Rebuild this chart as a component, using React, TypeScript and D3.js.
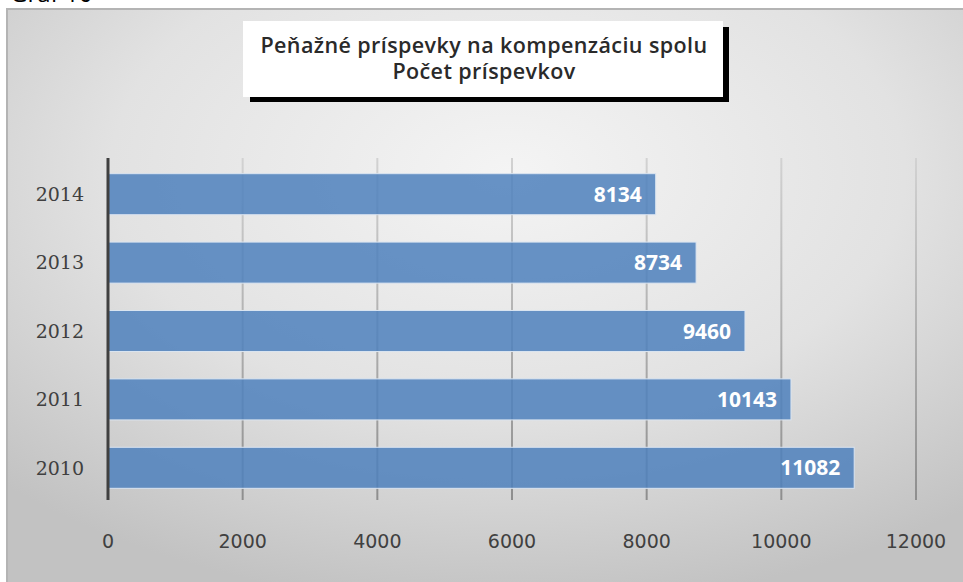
import React from "react";
import * as d3 from "d3";

const categories = ["2014", "2013", "2012", "2011", "2010"];
const values = [8134, 8734, 9460, 10143, 11082];
const xTicks = [0, 2000, 4000, 6000, 8000, 10000, 12000];
const titleLines = ["Peňažné príspevky na kompenzáciu spolu", "Počet príspevkov"];
const caption = "Graf 10";

export default function App() {
  const W = 963;
  const H = 582;
  const plot = { left: 108, right: 916, top: 158, bottom: 500 };
  const x = d3.scaleLinear().domain([0, 12000]).range([plot.left, plot.right]);
  const y = d3
    .scaleBand<string>()
    .domain(categories)
    .range([160, 502])
    .paddingInner(0.4)
    .paddingOuter(0.2);

  return (
    <svg
      width={W}
      height={H}
      style={{ position: "absolute", left: 0, top: 0, display: "block" }}
    >
      <defs>
        <radialGradient id="bg" cx="0.52" cy="0.28" r="0.75" fx="0.52" fy="0.28">
          <stop offset="0" stopColor="#f4f4f4" />
          <stop offset="0.55" stopColor="#e2e2e2" />
          <stop offset="1" stopColor="#c2c2c2" />
        </radialGradient>
        <linearGradient
          id="grid"
          gradientUnits="userSpaceOnUse"
          x1="0"
          y1={plot.top}
          x2="0"
          y2={plot.bottom}
        >
          <stop offset="0" stopColor="#d2d2d2" />
          <stop offset="1" stopColor="#8e8e8e" />
        </linearGradient>
      </defs>
      <rect x={0} y={0} width={W} height={H} fill="#ffffff" />
      <text
        x={10}
        y={2}
        fontFamily="'Open Sans', sans-serif"
        fontSize={24}
        fill="#000"
      >
        {caption}
      </text>
      <rect x={7} y={9} width={W} height={H} fill="url(#bg)" stroke="#b4b4b4" strokeWidth={2} />

      {/* grid lines */}
      {xTicks
        .filter((t) => t !== 0)
        .map((t) => (
          <line
            key={"g" + t}
            x1={x(t)}
            x2={x(t)}
            y1={plot.top}
            y2={plot.bottom}
            stroke="url(#grid)"
            strokeWidth={2}
          />
        ))}

      {/* bars */}
      {categories.map((c, i) => (
        <rect
          key={"b" + c}
          x={x(0)}
          y={y(c)}
          width={x(values[i]) - x(0)}
          height={y.bandwidth()}
          fill="#4f81bd"
          fillOpacity={0.86}
          stroke="#dbe5f1"
          strokeWidth={1}
        />
      ))}

      {/* value labels */}
      {categories.map((c, i) => (
        <text
          key={"v" + c}
          x={x(values[i]) - 14}
          y={(y(c) as number) + y.bandwidth() / 2}
          dy="0.36em"
          textAnchor="end"
          fontFamily="'Open Sans', sans-serif"
          fontWeight="bold"
          fontSize={21}
          fill="#ffffff"
        >
          {values[i]}
        </text>
      ))}

      {/* y axis line */}
      <line
        x1={x(0)}
        x2={x(0)}
        y1={plot.top}
        y2={plot.bottom}
        stroke="#404040"
        strokeWidth={3}
      />

      {/* y labels */}
      {categories.map((c) => (
        <text
          key={"y" + c}
          x={84}
          y={(y(c) as number) + y.bandwidth() / 2}
          dy="0.36em"
          textAnchor="end"
          fontFamily="'DejaVu Serif', serif"
          fontSize={19}
          fill="#404040"
        >
          {c}
        </text>
      ))}

      {/* x tick labels */}
      {xTicks.map((t) => (
        <text
          key={"x" + t}
          x={x(t)}
          y={541}
          dy="0.36em"
          textAnchor="middle"
          fontFamily="'DejaVu Sans', sans-serif"
          fontSize={19}
          fill="#404040"
        >
          {t}
        </text>
      ))}

      {/* title box */}
      <rect x={250} y={27} width={479} height={75} fill="#000" />
      <rect x={243} y={21} width={480} height={76} fill="#ffffff" />
      <text
        textAnchor="middle"
        fontFamily="'Open Sans', sans-serif"
        fontWeight={600}
        fontSize={21.5}
        letterSpacing={0.4}
        fill="#2a2a2a"
      >
        {titleLines.map((l, i) => (
          <tspan key={"t" + i} x={484} y={53 + i * 26}>
            {l}
          </tspan>
        ))}
      </text>
    </svg>
  );
}
